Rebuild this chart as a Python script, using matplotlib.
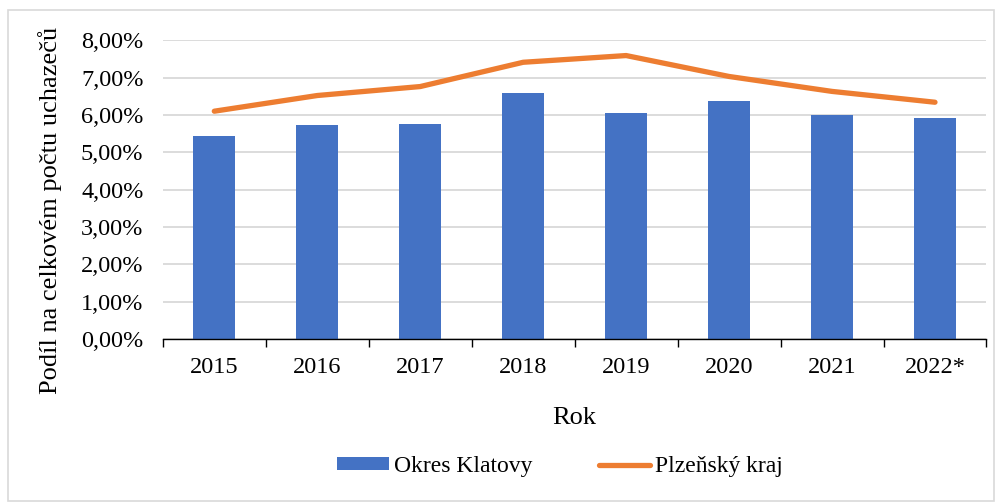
import numpy as np
import matplotlib.pyplot as plt
from matplotlib.ticker import FuncFormatter, FixedLocator

years = ['2015', '2016', '2017', '2018', '2019', '2020', '2021', '2022*']
klatovy = [5.43, 5.72, 5.75, 6.60, 6.04, 6.36, 5.99, 5.91]
plzensky = [6.10, 6.52, 6.76, 7.41, 7.59, 7.03, 6.63, 6.34]

plt.rcParams['font.family'] = ['Liberation Serif', 'DejaVu Serif']

fig = plt.figure(figsize=(10.02, 5.03), dpi=100)
ax = fig.add_axes([0.1625, 0.326, 0.822, 0.594])

x = np.arange(len(years))
bars = ax.bar(x, klatovy, width=0.41, color='#4472C4', label='Okres Klatovy', zorder=2)
line, = ax.plot(x, plzensky, color='#ED7D31', linewidth=3.8, solid_capstyle='round',
                label='Plzeňský kraj', zorder=3)

ax.set_xlim(-0.5, len(years) - 0.5)
ax.set_ylim(0, 8)
ax.set_yticks(np.arange(0, 9, 1))
ax.yaxis.set_major_formatter(FuncFormatter(lambda v, p: f'{v:.2f}%'.replace('.', ',')))
ax.grid(axis='y', color='#D9D9D9', linewidth=1.3, zorder=0)
ax.set_xticks(x)
ax.set_xticklabels(years)
ax.xaxis.set_minor_locator(FixedLocator(np.arange(-0.5, len(years), 1)))
ax.tick_params(axis='x', which='major', length=0, pad=13, labelsize=17.5)
ax.tick_params(axis='x', which='minor', length=6, width=1, color='black')
ax.tick_params(axis='y', length=0, pad=14, labelsize=17.5)

for s in ['top', 'right', 'left']:
    ax.spines[s].set_visible(False)
ax.spines['bottom'].set_color('black')
ax.spines['bottom'].set_linewidth(1)

ax.set_ylabel('Podíl na celkovém počtu uchazečů', fontsize=19)
ax.yaxis.set_label_coords(-0.122, 0.431)
ax.set_xlabel('Rok', fontsize=19, labelpad=21)

fig.legend([bars, line], ['Okres Klatovy', 'Plzeňský kraj'],
           loc='center', bbox_to_anchor=(0.559, 0.072), ncol=2, frameon=False,
           fontsize=17, handlelength=2.2, handleheight=0.48, handletextpad=0.2,
           columnspacing=2.8)

border = plt.Rectangle((0.008, 0.004), 0.984, 0.976, transform=fig.transFigure,
                       fill=False, edgecolor='#D9D9D9', linewidth=1.2)
fig.patches.append(border)

fig.savefig('out.png', dpi=100)
